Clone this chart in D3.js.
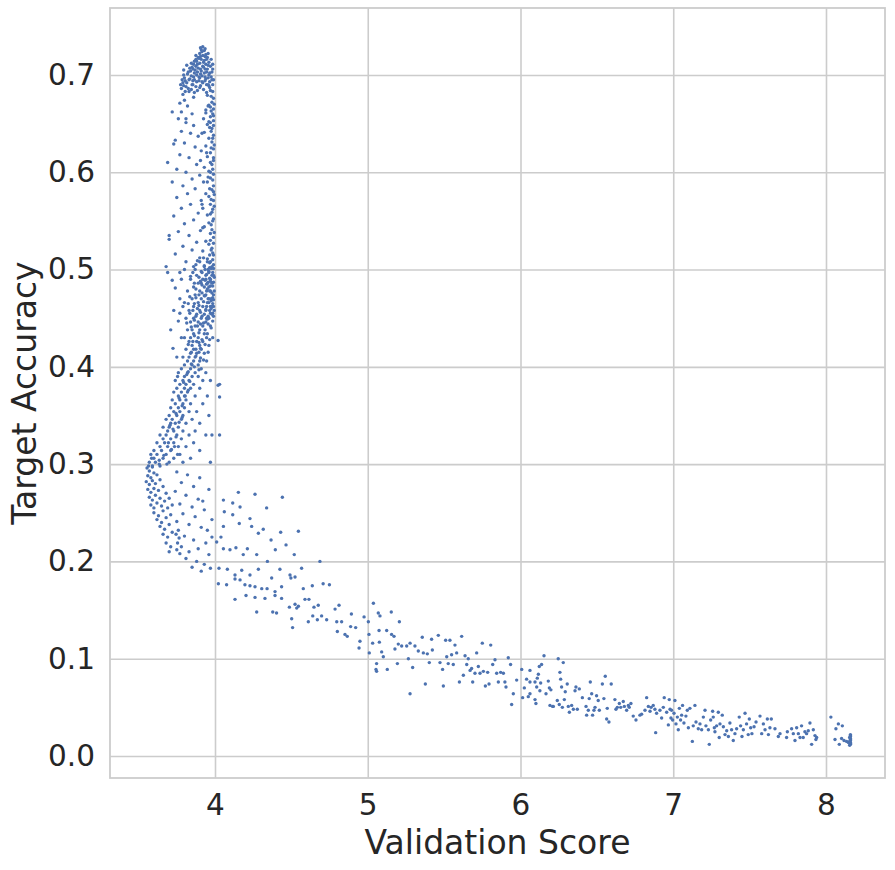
<!DOCTYPE html>
<html>
<head>
<meta charset="utf-8">
<script src="https://cdn.jsdelivr.net/npm/d3@7"></script>
<style>
  body { margin: 0; background: #fff; }
  text { font-family: "DejaVu Sans", sans-serif; fill: #262626; }
</style>
</head>
<body>
<svg id="chart" width="895" height="870"></svg>
<script>
// tick values
var xTicks = [4, 5, 6, 7, 8];
var yTicks = [0.0, 0.1, 0.2, 0.3, 0.4, 0.5, 0.6, 0.7];

// points, [validation score, target accuracy]
var peakPts = [
  [3.92,.729],[3.91,.726],[3.93,.725],[3.90,.722],[3.94,.721],[3.92,.720],[3.89,.718],[3.95,.718],
  [3.91,.716],[3.93,.715],[3.88,.714],[3.96,.713],[3.90,.712],[3.86,.711],[3.94,.711],[3.92,.709],
  [3.85,.708],[3.97,.709],[3.89,.707],[3.95,.706],[3.87,.705],[3.91,.704],[3.84,.704],[3.98,.703],
  [3.93,.702],[3.82,.701],[3.88,.700],[3.96,.700],[3.86,.698],[3.90,.697],[3.80,.697],[3.94,.696],
  [3.83,.695],[3.98,.695],[3.88,.693],[3.79,.692],[3.92,.692],[3.85,.690],[3.96,.689],[3.81,.688],
  [3.78,.686],[3.90,.687],[3.97,.684],[3.83,.683],[3.79,.680],[3.95,.679],[3.86,.677],[3.99,.676],
  [3.80,.674],[3.77,.671],[3.82,.668],[3.97,.667],[3.94,.664],[3.78,.662],[3.85,.660],[3.99,.658],
  [3.81,.655],[3.96,.652],
  [3.905,.719],[3.925,.713],[3.875,.709],[3.935,.706],[3.865,.702],[3.915,.699],[3.955,.697],[3.845,.699],
  [3.895,.694],[3.945,.690],[3.875,.688],[3.925,.685],[3.815,.692],[3.985,.690],[3.965,.702],[3.855,.694],
  [3.905,.706],[3.875,.720],[3.945,.716],[3.835,.707],[3.795,.705],[3.985,.706],[3.935,.694],[3.805,.683],
  [3.865,.682],
  [3.915,.724],[3.895,.717],[3.935,.719],[3.885,.711],[3.925,.708],[3.955,.710],[3.865,.714],[3.905,.701],
  [3.945,.703],[3.855,.706],[3.825,.703],[3.895,.698],[3.975,.698],[3.835,.696],[3.915,.693],[3.965,.693],
  [3.805,.694],[3.855,.690],[3.885,.684],[3.945,.682],[3.825,.686],[3.795,.689],[3.965,.687],[3.905,.689],
  [3.845,.685],[3.785,.695],[3.775,.690],[3.935,.727],[3.905,.728],[3.955,.722],[3.875,.716],[3.985,.711],
  [3.845,.712],[3.815,.710],[3.935,.698],[3.885,.703],[3.975,.716],[3.955,.690],[3.865,.695],[3.795,.700]
];

var edgePts = [
  [3.98,.672],[3.96,.669],[3.99,.665],[3.94,.661],[3.97,.657],[3.99,.653],[3.95,.649],[3.98,.645],
  [3.93,.641],[3.99,.638],[3.96,.635],[3.98,.631],[3.94,.627],[3.99,.624],[3.97,.620],[3.95,.616],
  [3.99,.612],[3.98,.608],[3.93,.605],[3.96,.601],[3.99,.598],[3.97,.594],[3.95,.590],[3.99,.586],
  [3.98,.582],[3.94,.578],[3.96,.575],[3.99,.571],[3.97,.567],[3.92,.563],[3.98,.559],[3.95,.556],
  [3.99,.552],[3.96,.548],[3.93,.544],[3.98,.541],[3.97,.537],[3.99,.533],[3.94,.529],[3.96,.526],
  [3.98,.522],[3.92,.519],[3.99,.515],[3.95,.511],[3.97,.508],[3.93,.504],[3.99,.501],[3.96,.497],
  [3.98,.494],[3.94,.490],[3.99,.487],[3.97,.483],[3.95,.480],[3.98,.476],[3.93,.473],[3.99,.469],
  [3.96,.466],[3.98,.462],[3.94,.459],[3.97,.455],[3.99,.452],[3.95,.449],
  [3.985,.660],[3.975,.642],[3.995,.628],[3.985,.603],[3.965,.583],[3.995,.577],[3.985,.562],[3.975,.546],
  [3.995,.538],[3.985,.517],[3.965,.502],[3.995,.492],[3.985,.471],[3.975,.460],[3.995,.458],[3.955,.470],
  [3.945,.485],[3.965,.515],[3.955,.595],[3.945,.620],[3.965,.646],[3.955,.668],[3.925,.655],[3.915,.640],
  [3.905,.612],[3.925,.590],[3.915,.567],[3.905,.540],
  [3.99,.695],[3.985,.683],[3.975,.678],[3.995,.670],[3.975,.663],[3.99,.648],[3.97,.651],[3.985,.635],
  [3.975,.625],[3.99,.615],[3.97,.610],[3.985,.592],[3.97,.600],[3.99,.580],[3.975,.572],[3.995,.565],
  [3.97,.557],[3.985,.550],[3.99,.527],[3.97,.530],[3.985,.510],[3.975,.520],[3.99,.505],[3.97,.488],
  [3.985,.497],[3.995,.478],[3.975,.468],[3.99,.462],[3.965,.458],[3.985,.455]
];

var sparsePts = [
  [3.72,.662],[3.76,.655],[3.81,.651],[3.86,.648],[3.78,.642],[3.84,.640],[3.89,.637],[3.74,.633],
  [3.80,.630],[3.87,.626],[3.91,.622],[3.77,.618],[3.83,.615],[3.69,.610],[3.88,.608],[3.75,.603],
  [3.81,.600],[3.90,.597],[3.85,.593],[3.72,.590],[3.79,.586],[3.87,.583],[3.82,.578],[3.75,.574],
  [3.91,.571],[3.84,.567],[3.78,.563],[3.89,.558],[3.73,.555],[3.86,.551],[3.80,.547],[3.92,.543],
  [3.76,.539],[3.83,.535],[3.70,.531],[3.88,.528],[3.79,.524],[3.85,.520],[3.74,.516],[3.90,.512],
  [3.81,.508],[3.68,.503],[3.87,.500],[3.77,.497],[3.84,.493],[3.72,.489],[3.91,.486],[3.73,.629],
  [3.70,.535]
];

var midPts = [
  [3.90,.508],[3.95,.508],[3.86,.503],[3.93,.503],[3.98,.503],[3.91,.498],[3.96,.498],
  [3.88,.494],[3.94,.494],[3.99,.494],[3.84,.490],[3.92,.490],[3.97,.490],[3.89,.486],[3.95,.486],
  [3.98,.486],[3.86,.482],[3.93,.482],[3.96,.482],[3.82,.478],[3.90,.478],[3.97,.478],[3.87,.474],
  [3.94,.474],[3.99,.474],[3.85,.470],[3.91,.470],[3.96,.470],[3.80,.466],[3.89,.466],[3.95,.466],
  [3.86,.462],[3.92,.462],[3.97,.462],[3.83,.458],[3.90,.458],[3.94,.458],[3.88,.454],[3.93,.454],
  [3.98,.454],[3.81,.450],[3.86,.450],[3.91,.450],[3.96,.450],[3.84,.446],[3.89,.446],[3.94,.446],
  [3.87,.442],[3.92,.442],[3.97,.442],[3.82,.438],[3.85,.438],[3.90,.438],[3.86,.434],[3.93,.434],
  [3.95,.434],[3.80,.430],[3.84,.430],[3.89,.430],[3.83,.426],[3.88,.426],[3.92,.426],[3.85,.422],
  [3.90,.422],[3.96,.422],[3.81,.418],[3.86,.418],[3.91,.418],[3.84,.414],[3.88,.414],[3.93,.414],
  [3.79,.410],[3.83,.410],[3.87,.410],[3.82,.406],[3.86,.406],[3.90,.406],[3.80,.402],[3.85,.402],
  [3.89,.402],
  [3.875,.505],[3.935,.500],[3.965,.491],[3.905,.488],[3.945,.478],[3.875,.471],[3.925,.467],[3.985,.465],
  [3.905,.456],[3.955,.452],[3.865,.448],[3.925,.445],[3.975,.440],[3.895,.435],[3.945,.430],[3.855,.426],
  [3.905,.419],[3.955,.415],[3.875,.411],[3.925,.407],[3.845,.403],[3.895,.397],[3.915,.484],[3.945,.462],
  [3.895,.474],[3.965,.478],[3.885,.460],[3.935,.438],[3.865,.432],[3.915,.428],[3.885,.442],[3.975,.501],
  [3.985,.483],[3.915,.497],
  [3.835,.472],[3.855,.458],[3.845,.441],[3.875,.452],[3.895,.463],[3.935,.473],[3.955,.487],[3.895,.492],
  [3.935,.489],[3.865,.486],[3.855,.497],[3.945,.495],[3.885,.509],[3.925,.512],[3.965,.507],[3.915,.476],
  [3.875,.480],[3.955,.444],[3.915,.452],[3.935,.423],[3.895,.425],[3.875,.418],[3.965,.428],[3.985,.447],
  [3.825,.423],[3.845,.415],[3.905,.409],[3.865,.400],[3.825,.395],[3.945,.406],[3.985,.430],[3.835,.455],
  [3.815,.445],[3.825,.465],[3.865,.465],[3.905,.444],[3.945,.450],[3.975,.470],[3.955,.500],[3.895,.415],
  [3.69,.497],[3.74,.481],[3.77,.470],[3.73,.458],[3.76,.447],[3.71,.438],[3.78,.430],[3.725,.419],
  [3.75,.410],[3.77,.455],[3.79,.462],[3.78,.490],[3.80,.500],
  [4.03,.382],[4.03,.369],[4.03,.330],[3.98,.330],[3.97,.386],[4.02,.427],[4.02,.381]
];

var bendPts = [
  [3.78,.398],[3.84,.398],[3.91,.398],[3.76,.394],[3.82,.394],[3.87,.394],[3.94,.394],
  [3.80,.390],[3.85,.390],[3.89,.390],[3.74,.386],[3.79,.386],[3.83,.386],[3.92,.386],
  [3.77,.382],[3.81,.382],[3.86,.382],[3.75,.378],[3.80,.378],[3.84,.378],[3.90,.378],
  [3.73,.374],[3.78,.374],[3.82,.374],[3.76,.370],[3.80,.370],[3.87,.370],[3.95,.370],
  [3.72,.366],[3.77,.366],[3.81,.366],[3.74,.362],[3.79,.362],[3.84,.362],[3.92,.362],
  [3.71,.358],[3.76,.358],[3.80,.358],[3.73,.354],[3.77,.354],[3.83,.354],[3.88,.354],
  [3.70,.350],[3.75,.350],[3.79,.350],[3.96,.350],[3.68,.346],[3.72,.346],[3.78,.346],[3.85,.346],
  [3.71,.342],[3.74,.342],[3.81,.342],[3.90,.342],[3.66,.338],[3.70,.338],[3.76,.338],
  [3.69,.334],[3.73,.334],[3.79,.334],[3.87,.334],[3.64,.330],[3.68,.330],[3.75,.330],[3.83,.330],
  [3.94,.330],[3.66,.326],[3.71,.326],[3.78,.326],[3.62,.322],[3.67,.322],[3.73,.322],[3.86,.322],
  [3.64,.318],[3.69,.318],[3.76,.318],[3.81,.318],[3.60,.314],[3.65,.314],[3.71,.314],[3.90,.314],
  [3.58,.310],[3.62,.310],[3.68,.310],[3.77,.310],[3.60,.306],[3.66,.306],[3.73,.306],[3.84,.306],
  [3.57,.302],[3.61,.302],[3.70,.302],[3.79,.302],[3.97,.302],[3.59,.298],[3.64,.298],
  [3.815,.392],[3.795,.384],[3.825,.376],[3.765,.368],[3.785,.360],[3.745,.352],[3.765,.343],[3.725,.336],
  [3.745,.328],[3.695,.322],[3.715,.315],[3.665,.309],[3.635,.304],[3.585,.306],[3.565,.298],
  [3.635,.300],[3.705,.340],[3.755,.390],[3.805,.370],[3.835,.385],[3.785,.348],[3.735,.318],[3.755,.310],
  [3.685,.300]
];

var lowPts = [
  [3.555,.296],[3.57,.293],[3.59,.297],[3.56,.288],[3.58,.286],[3.60,.291],[3.62,.289],[3.55,.282],
  [3.57,.279],[3.59,.283],[3.61,.280],[3.64,.284],[3.56,.274],[3.58,.271],[3.60,.275],[3.63,.273],
  [3.66,.277],[3.57,.266],[3.59,.263],[3.61,.268],[3.64,.265],[3.68,.270],[3.58,.258],[3.60,.255],
  [3.62,.260],[3.65,.257],[3.67,.262],[3.70,.265],[3.60,.250],[3.63,.247],[3.66,.252],[3.69,.255],
  [3.72,.258],[3.62,.243],[3.65,.240],[3.68,.245],[3.71,.248],[3.64,.236],[3.67,.233],[3.70,.238],
  [3.66,.228],[3.69,.225],[3.72,.230],[3.68,.219],[3.71,.215],[3.70,.210],
  [3.75,.292],[3.82,.289],[3.90,.286],[3.78,.281],[3.86,.277],[3.96,.274],[3.74,.272],[3.81,.268],
  [3.89,.264],[3.77,.259],[3.85,.256],[3.93,.253],[3.79,.249],[3.87,.246],[3.98,.243],[3.75,.241],
  [3.83,.238],[3.91,.235],[3.76,.232],[3.745,.228],[3.765,.224],[3.755,.219],[3.78,.215],[3.75,.212],
  [3.77,.208],[3.80,.226],[3.86,.222],[3.94,.219],[3.89,.213],[3.83,.210],[3.96,.207],[3.81,.203],
  [3.88,.200],[3.93,.197],[3.85,.194],[3.91,.190],[3.97,.193],[3.98,.225],[3.95,.232],[3.92,.262]
];

var tailPts = [
  [4.153,.271],[4.262,.269],[4.441,.266],[4.055,.263],[4.116,.260],[4.164,.256],[4.338,.255],[4.061,.251],
  [4.116,.248],[4.229,.244],[4.055,.236],[4.159,.239],[4.240,.236],[4.316,.233],[4.430,.230],[4.546,.231],
  [4.284,.229],[4.039,.225],[4.367,.222],[4.011,.220],[4.055,.213],[4.098,.212],[4.137,.214],[4.212,.213],
  [4.395,.212],[4.465,.217],[4.519,.207],[4.185,.207],[4.273,.207],[4.343,.200],[4.567,.193],[4.687,.200],
  [4.026,.193],[4.081,.192],[4.131,.186],[4.175,.191],[4.229,.186],[4.284,.192],[4.371,.183],[4.425,.192],
  [4.491,.186],[4.497,.183],[4.022,.177],[4.076,.176],[4.131,.182],[4.164,.181],[4.196,.176],[4.229,.175],
  [4.262,.174],[4.306,.172],[4.341,.172],[4.393,.169],[4.436,.174],[4.524,.184],[4.578,.172],[4.637,.175],
  [4.708,.177],[4.749,.176],[4.131,.161],[4.203,.165],[4.262,.163],[4.327,.162],[4.393,.165],[4.436,.162],
  [4.487,.153],[4.524,.156],[4.535,.152],[4.546,.154],[4.589,.161],[4.615,.161],[4.648,.153],[4.676,.155],
  [4.273,.148],[4.378,.148],[4.403,.147],[4.502,.141],[4.508,.132],[4.611,.138],[4.640,.144],[4.670,.140],
  [4.698,.144],[4.731,.140],[4.786,.151],[4.812,.155],[4.829,.138],[4.797,.138],[4.893,.146],[4.801,.128],
  [4.851,.125],[4.866,.123],[4.888,.133],[4.921,.132],[4.949,.118],[4.943,.111],[4.976,.143],[5.004,.138],
  [5.008,.125],[5.037,.157],[5.032,.116],[5.010,.106],[5.054,.089],[5.058,.095],[5.058,.087],[5.069,.147],
  [5.080,.144],[5.074,.129],[5.076,.117],[5.091,.107],[5.102,.102],[5.124,.129],[5.128,.089],[5.154,.148],
  [5.156,.125],[5.172,.123],[5.178,.110],[5.194,.095],[5.200,.115],[5.207,.138],[5.222,.113],[5.255,.113],
  [5.266,.100],[5.277,.064],[5.277,.116],[5.294,.091],[5.309,.113],[5.331,.108],[5.357,.122],[5.364,.106],
  [5.377,.074],[5.390,.105],[5.403,.096],[5.418,.120],[5.423,.109],[5.462,.124],[5.473,.096],[5.490,.089],
  [5.495,.072],[5.510,.119],[5.517,.102],[5.527,.095],[5.538,.119],[5.549,.104],[5.560,.094],[5.571,.114],
  [5.582,.106],[5.600,.076],[5.615,.123],[5.626,.083],[5.637,.103],[5.648,.094],[5.658,.100],[5.670,.088],
  [5.680,.090],[5.687,.076],[5.702,.085],[5.713,.106],[5.724,.092],[5.735,.085],[5.750,.116],[5.757,.087],
  [5.770,.072],[5.785,.086],[5.794,.074],[5.805,.114],[5.818,.094],[5.833,.099],[5.844,.085],[5.855,.076],
  [5.870,.086],[5.888,.085],[5.898,.076],[5.905,.071],[5.920,.101],[5.935,.094],[5.942,.053],[5.953,.064],
  [5.975,.078],[6.008,.089],[6.014,.060],[6.025,.070],[6.040,.079],[6.051,.061]
];

var farPts = [
  [6.062,.088],[6.062,.076],[6.062,.064],[6.095,.076],[6.095,.058],[6.101,.054],[6.106,.071],[6.110,.080],
  [6.117,.084],[6.123,.092],[6.127,.067],[6.132,.075],[6.138,.094],[6.154,.103],[6.167,.064],[6.182,.077],
  [6.189,.070],[6.193,.052],[6.199,.068],[6.210,.051],[6.215,.051],[6.241,.057],[6.247,.100],[6.254,.053],
  [6.258,.086],[6.263,.079],[6.269,.071],[6.274,.050],[6.280,.096],[6.287,.058],[6.293,.066],[6.306,.074],
  [6.313,.051],[6.320,.045],[6.335,.052],[6.346,.048],[6.357,.067],[6.363,.071],[6.372,.048],[6.385,.069],
  [6.405,.060],[6.429,.051],[6.433,.042],[6.444,.047],[6.450,.059],[6.457,.076],[6.466,.064],[6.472,.042],
  [6.481,.047],[6.488,.050],[6.498,.062],[6.509,.057],[6.516,.047],[6.536,.074],[6.546,.059],[6.555,.082],
  [6.564,.038],[6.568,.049],[6.579,.035],[6.594,.074],[6.618,.058],[6.625,.048],[6.634,.050],[6.647,.054],
  [6.656,.050],[6.673,.056],[6.680,.051],[6.695,.047],[6.706,.052],[6.712,.050],[6.723,.054],[6.738,.041],
  [6.756,.037],[6.782,.042],[6.793,.043],[6.815,.047],[6.826,.060],[6.837,.051],[6.848,.046],[6.855,.050],
  [6.869,.052],[6.880,.048],[6.885,.024],[6.891,.044],[6.913,.047],[6.924,.039],[6.935,.050],[6.941,.060],
  [6.957,.045],[6.968,.032],[6.974,.058],[6.979,.048],[6.985,.039],[6.989,.047],[6.996,.037],[7.005,.044],
  [7.011,.057],[7.018,.033],[7.027,.040],[7.033,.027],[7.040,.049],[7.048,.037],[7.055,.042],[7.061,.052],
  [7.070,.034],[7.083,.041],[7.092,.047],[7.099,.029],[7.109,.049],[7.125,.015],[7.131,.031],[7.142,.052],
  [7.149,.035],[7.164,.028],[7.175,.033],[7.186,.027],[7.197,.040],[7.208,.047],[7.214,.031],[7.230,.027],
  [7.236,.012],[7.245,.037],[7.258,.046],[7.262,.040],[7.269,.029],[7.273,.025],[7.284,.031],[7.295,.045],
  [7.301,.019],[7.306,.033],[7.321,.042],[7.328,.030],[7.339,.022],[7.350,.026],[7.361,.020],[7.371,.034],
  [7.382,.027],[7.393,.016],[7.404,.023],[7.415,.028],[7.432,.040],[7.441,.031],[7.450,.020],[7.459,.027],
  [7.470,.044],[7.480,.033],[7.491,.022],[7.498,.038],[7.507,.029],[7.515,.023],[7.529,.030],[7.542,.035],
  [7.568,.041],[7.579,.023],[7.590,.033],[7.601,.027],[7.616,.038],[7.623,.022],[7.633,.029],[7.642,.038],
  [7.666,.028],[7.688,.020],[7.699,.023],[7.742,.019],[7.747,.025],[7.775,.028],[7.786,.023],[7.797,.016],
  [7.808,.029],[7.819,.023],[7.830,.019],[7.840,.031],[7.851,.019],[7.862,.025],[7.873,.023],[7.884,.026],
  [7.895,.034],[7.906,.012],[7.917,.027],[7.928,.021],[7.934,.017],[7.939,.019],[8.032,.040],[8.065,.028],
  [8.081,.033],[8.107,.031],[8.059,.017],[8.087,.012],[8.102,.018],[8.118,.016],[8.135,.015],[8.146,.014],
  [8.160,.012],[8.160,.014],[8.160,.016],[8.160,.018],[8.160,.020],[8.160,.022],[8.160,.013],[8.160,.017],
  [8.160,.021],[8.155,.015],[8.155,.019],[8.155,.011]
];

var allPts = [].concat(peakPts, edgePts, sparsePts, midPts, bendPts, lowPts, tailPts, farPts);

var margin = {top: 8, right: 10, bottom: 92, left: 110};
var width = 895 - margin.left - margin.right;
var height = 870 - margin.top - margin.bottom;

var svg = d3.select("#chart");
var g = svg.append("g").attr("transform", "translate(" + margin.left + "," + margin.top + ")");

var xScale = d3.scaleLinear().domain([3.3126, 8.3863]).range([0, width]);
var yScale = d3.scaleLinear().domain([-0.0226, 0.7688]).range([height, 0]);

// grid + tick labels (seaborn whitegrid look: no tick marks)
var xAxis = g.append("g")
    .attr("transform", "translate(0," + height + ")")
    .call(d3.axisBottom(xScale).tickValues(xTicks).tickSize(-height).tickPadding(16).tickFormat(d3.format("d")));
var yAxis = g.append("g")
    .call(d3.axisLeft(yScale).tickValues(yTicks).tickSize(-width).tickPadding(15).tickFormat(d3.format(".1f")));

[xAxis, yAxis].forEach(function(ax){
    ax.select(".domain").remove();
    ax.selectAll("line").attr("stroke", "#cccccc").attr("stroke-width", 1.6);
    ax.selectAll("text").attr("font-size", "29.5px").attr("fill", "#262626")
      .attr("font-family", "DejaVu Sans, sans-serif");
});

// points
g.append("g").selectAll("circle")
    .data(allPts)
  .enter().append("circle")
    .attr("cx", function(d){ return xScale(d[0]); })
    .attr("cy", function(d){ return yScale(d[1]); })
    .attr("r", 1.7)
    .style("fill", "#4C72B0");

// frame
g.append("rect")
    .attr("width", width).attr("height", height)
    .attr("fill", "none").attr("stroke", "#cccccc").attr("stroke-width", 1.8);

// axis titles
svg.append("text")
    .attr("x", margin.left + width / 2).attr("y", 854)
    .attr("text-anchor", "middle").attr("font-size", "33px")
    .text("Validation Score");
svg.append("text")
    .attr("transform", "translate(36," + (margin.top + height / 2) + ") rotate(-90)")
    .attr("text-anchor", "middle").attr("font-size", "33px")
    .text("Target Accuracy");
</script>
</body>
</html>
